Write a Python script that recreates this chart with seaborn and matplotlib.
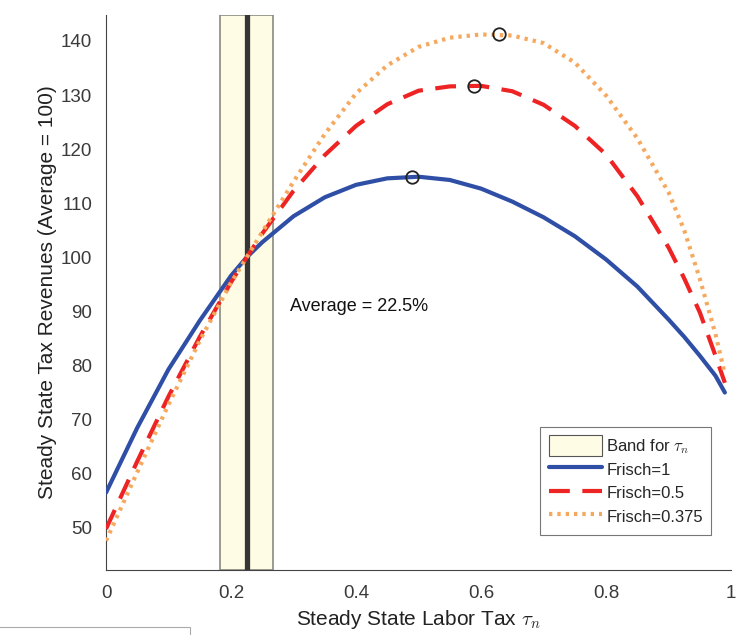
import numpy as np
import pandas as pd
import matplotlib
matplotlib.use("Agg")
import matplotlib.pyplot as plt
from matplotlib.patches import Patch, Rectangle
from matplotlib.lines import Line2D
import seaborn as sns

# labor tax grid
tau = [0, 0.05, 0.1, 0.15, 0.2, 0.225, 0.25, 0.3, 0.35, 0.4, 0.45, 0.5, 0.55,
       0.6, 0.65, 0.7, 0.75, 0.8, 0.85, 0.9, 0.925, 0.95, 0.975, 0.99]
rev_frisch_1 = [56.5, 68.5, 79.3, 88.3, 96.6, 100.0, 102.8, 107.6, 111.1, 113.4, 114.6, 114.9,
                114.3, 112.7, 110.3, 107.4, 103.9, 99.6, 94.6, 88.5, 85.3, 81.8, 78.1, 75.0]
rev_frisch_05 = [49.8, 62.3, 74.3, 85.3, 95.4, 100.0, 104.4, 112.3, 118.9, 124.3, 128.3, 130.8,
                 131.6, 131.7, 130.7, 128.2, 124.3, 119.0, 111.3, 101.8, 96.1, 89.8, 81.8, 76.8]
rev_frisch_0375 = [47.6, 60.3, 72.8, 84.6, 95.3, 100.0, 104.7, 114.0, 122.8, 130.3, 135.5, 138.9,
                   140.6, 141.2, 141.0, 139.6, 136.0, 129.9, 122.0, 112.0, 105.0, 96.0, 85.8, 78.4]

# peaks (circles)
peak_x = [0.489, 0.588, 0.629]
peak_y = [114.9, 131.7, 141.2]

band_lo, band_hi = 0.182, 0.267
avg_tax = 0.225

series = [
    ("Frisch=1", rev_frisch_1, "#2F4FA6", "-", 3.0),
    ("Frisch=0.5", rev_frisch_05, "#EE2424", (0, (5, 3)), 3.0),
    ("Frisch=0.375", rev_frisch_0375, "#F6A95E", (0, (0.8, 1.2)), 3.0),
]

df = pd.DataFrame({"tau": tau * 3,
                   "rev": rev_frisch_1 + rev_frisch_05 + rev_frisch_0375,
                   "case": sum([[s[0]] * len(tau) for s in series], [])})

sns.set_style("white")
plt.rcParams["font.family"] = ["Liberation Sans", "DejaVu Sans"]
plt.rcParams["mathtext.fontset"] = "cm"

fig = plt.figure(figsize=(7.43, 6.35), dpi=100)
ax = fig.add_axes([0.1427, 0.1024, 0.8413, 0.874])

ax.axvspan(band_lo, band_hi, facecolor="#FFFCE6", edgecolor="#8A8A80", lw=1.2, zorder=0)
ax.axvline(avg_tax, color="#363636", lw=3.8, zorder=1)

for name, vals, col, ls, lw in series:
    sub = df[df["case"] == name]
    sns.lineplot(data=sub, x="tau", y="rev", ax=ax, color=col, lw=lw, zorder=3)
    ax.lines[-1].set_linestyle(ls)

ax.plot(peak_x, peak_y, "o", ms=9, mfc="none", mec="#222222", mew=1.3, zorder=5)

ax.text(0.294, 90.9, "Average = 22.5%", fontsize=13, va="center", ha="left", color="#111111")

ax.set_xlim(0, 1)
ax.set_ylim(42.2, 144.8)
ax.set_xticks([0, 0.2, 0.4, 0.6, 0.8, 1])
ax.set_xticklabels(["0", "0.2", "0.4", "0.6", "0.8", "1"])
ax.set_yticks(range(50, 141, 10))
ax.tick_params(direction="in", length=5, width=0.8, colors="#444444", labelsize=13.5,
               labelcolor="#3a3a3a")
ax.tick_params(axis="y", pad=10)
ax.tick_params(axis="x", pad=11)
for s in ["top", "right"]:
    ax.spines[s].set_visible(False)
for s in ["left", "bottom"]:
    ax.spines[s].set_color("#444444")
    ax.spines[s].set_linewidth(0.8)

ax.set_xlabel(r"Steady State Labor Tax $\tau_n$", fontsize=15, color="#222222", labelpad=4)
ax.set_ylabel("Steady State Tax Revenues (Average = 100)", fontsize=15, color="#222222",
              labelpad=3)

handles = [Patch(facecolor="#FFFCE6", edgecolor="#555555", lw=0.8)]
handles += [Line2D([], [], color=c, ls=l, lw=w) for _, _, c, l, w in series]
labels = [r"Band for $\tau_n$"] + [s[0] for s in series]
leg = ax.legend(handles, labels, loc="lower right", bbox_to_anchor=(0.968, 0.063),
                borderaxespad=0, fontsize=12, frameon=True, fancybox=False,
                edgecolor="#555555", handlelength=3.2, handleheight=1.5,
                handletextpad=0.25, borderpad=0.5, labelspacing=0.2)
leg.get_frame().set_linewidth(0.8)

# stray box at the bottom-left corner of the screenshot
fig.add_artist(Rectangle((-0.01, -0.02), 0.266, 0.033, transform=fig.transFigure,
                         fill=False, edgecolor="#AAAAAA", lw=0.8))

fig.savefig("out.png", dpi=100)
